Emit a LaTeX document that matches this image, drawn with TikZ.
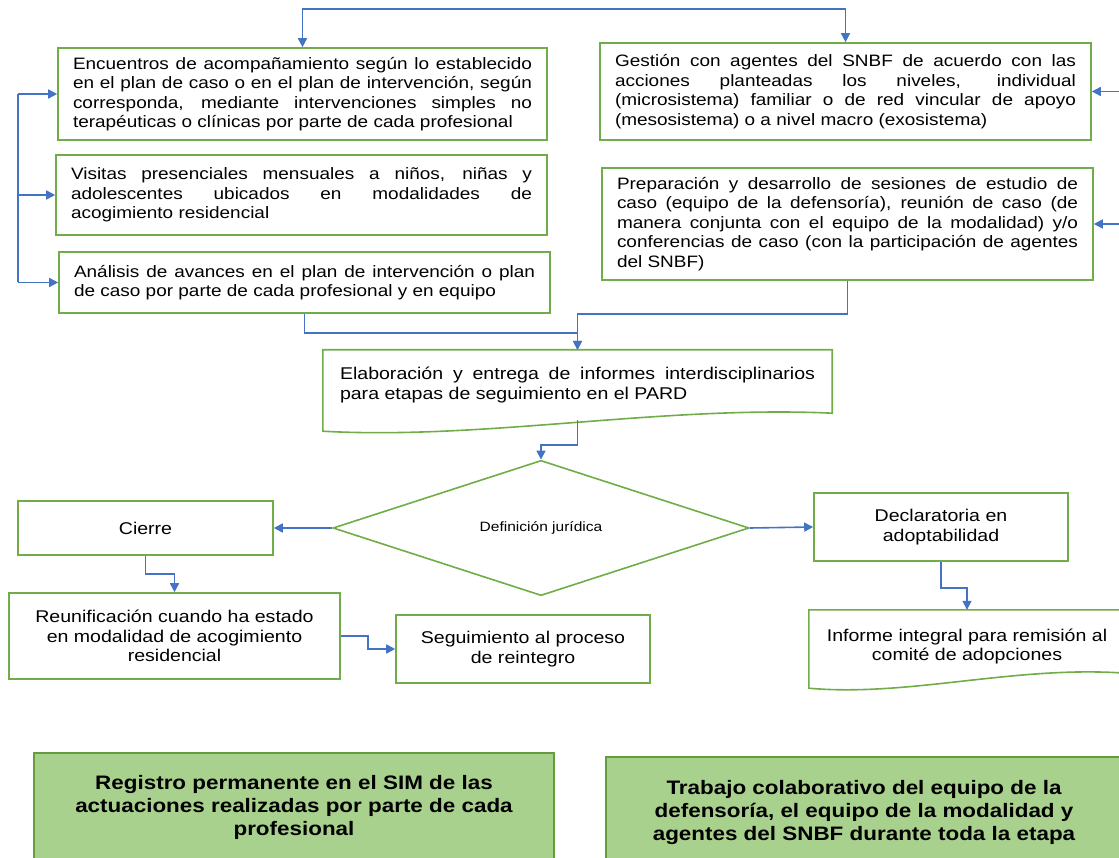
\documentclass[tikz,border=0pt]{standalone}
\usepackage{fontspec}
\setmainfont{Liberation Sans}[FakeStretch=1.15]
\usetikzlibrary{arrows.meta,shapes.geometric,calc}
\definecolor{cGrn} {HTML}{70AD47}
\definecolor{cBlu} {HTML}{4472C4}
\definecolor{cNote}{HTML}{A9D18E}
\tikzset{
  blk/.style  ={draw=cGrn,line width=1.6pt,fill=white,inner sep=0pt,
                font=\fontsize{16.5}{19.5}\selectfont},
  jblk/.style ={blk,align=justify},
  cblk/.style ={blk,align=center,font=\fontsize{17}{19.5}\selectfont},
  docx/.style ={inner sep=0pt,font=\fontsize{17}{19.5}\selectfont},
  docline/.style={draw=cGrn,line width=1.6pt},
  dec/.style  ={blk,shape=diamond,font=\fontsize{13.5}{15}\selectfont},
  note/.style ={draw=cGrn!90!black,fill=cNote,line width=1.2pt,align=center,
                inner sep=0pt,font=\fontsize{19.5}{23}\selectfont\bfseries},
  link/.style ={draw=cBlu,line width=1.6pt,-{Triangle[length=9pt,width=9pt]}},
}
\begin{document}
\begin{tikzpicture}[x=1pt,y=-1pt]
\clip (0,0) rectangle (1119,858);

% left column of activities
\node[jblk,minimum width=489,minimum height=92,text width=459pt] (encA) at (302.5,94)
  {Encuentros de acompañamiento según lo establecido\linebreak
   en el plan de caso o en el plan de intervención, según\linebreak
   corresponda, mediante intervenciones simples no\linebreak
   terapéuticas o clínicas por parte de cada profesional};
\node[jblk,minimum width=491,minimum height=80,text width=461pt] (visB) at (301.5,195)
  {Visitas presenciales mensuales a niños, niñas y\linebreak
   adolescentes ubicados en modalidades de\linebreak
   acogimiento residencial};
\node[jblk,minimum width=491,minimum height=61,text width=461pt] (anaC) at (304.5,282.5)
  {Análisis de avances en el plan de intervención o plan\linebreak
   de caso por parte de cada profesional y en equipo};

% right column
\node[jblk,minimum width=491,minimum height=97,text width=461pt] (gest) at (845.5,91.5)
  {Gestión con agentes del SNBF de acuerdo con las\linebreak
   acciones planteadas los niveles, individual\linebreak
   (microsistema) familiar o de red vincular de apoyo\linebreak
   (mesosistema) o a nivel macro (exosistema)};
\node[jblk,minimum width=491,minimum height=112,text width=461pt] (prep) at (847.5,224)
  {Preparación y desarrollo de sesiones de estudio de\linebreak
   caso (equipo de la defensoría), reunión de caso (de\linebreak
   manera conjunta con el equipo de la modalidad) y/o\linebreak
   conferencias de caso (con la participación de agentes\linebreak
   del SNBF)};

% report (document shape, outline drawn below)
\node[docx,align=justify,minimum width=509,minimum height=70,text width=475pt] (pard) at (577.5,385)
  {Elaboración y entrega de informes interdisciplinarios\linebreak
   para etapas de seguimiento en el PARD};
\draw[docline] (pard.north west) -- (pard.north east) -- ([yshift=7pt]pard.south east)
  .. controls +(-170,-8) and +(160,9) .. ([yshift=-11pt]pard.south west) -- cycle;

\node[dec,minimum width=416,minimum height=129] (jur) at (541,528) {Definición jurídica};

\node[cblk,minimum width=255,minimum height=54] (cierre) at (145.5,528) {Cierre};
\node[cblk,minimum width=331,minimum height=86] (reun) at (174.5,636)
  {Reunificación cuando ha estado\\ en modalidad de acogimiento\\ residencial};
\node[cblk,minimum width=254,minimum height=68] (segu) at (523,649)
  {Seguimiento al proceso\\ de reintegro};
\node[cblk,minimum width=254,minimum height=68] (decl) at (941,527)
  {Declaratoria en\\ adoptabilidad};

\node[docx,align=center,minimum width=316,minimum height=73] (infm) at (967,646.5)
  {Informe integral para remisión al\\ comité de adopciones};
\draw[docline] (infm.north west) -- (infm.north east) -- ([yshift=10pt]infm.south east)
  .. controls +(-110,-8) and +(100,9) .. ([yshift=-5pt]infm.south west) -- cycle;

% notes at the foot
\node[note,minimum width=520,minimum height=108] (regis) at (294,807)
  {Registro permanente en el SIM de las\\ actuaciones realizadas por parte de cada\\ profesional};
\node[note,minimum width=516,minimum height=110] (colab) at (864,812)
  {Trabajo colaborativo del equipo de la\\ defensoría, el equipo de la modalidad y\\ agentes del SNBF durante toda la etapa};

% connectors
\coordinate (topbar) at (0,9);
\coordinate (railL) at (18,0);
\coordinate (railR) at (1130,0);
\draw[link,{Triangle[length=9pt,width=9pt]}-{Triangle[length=9pt,width=9pt]}]
  (encA.north) -- (encA.north |- topbar) -| (gest.north);
\draw[draw=cBlu,line width=1.6pt] (encA.west -| railL) -- (anaC.west -| railL);
\foreach \n in {encA,visB,anaC}{\draw[link] (\n.west -| railL) -- (\n.west);}
\foreach \n in {gest,prep}{\draw[link] (\n.east -| railR) -- (\n.east);}
\draw[link] (anaC.south) -- ++(0,19) -| (pard.north);
\draw[link] (prep.south) -- ++(0,33) -| (pard.north);
\draw[link] (pard.south) -- ++(0,25) -| (jur.north);
\draw[link] (jur.west) -- (cierre.east);
\draw[link] (jur.east) -- (decl.west);
\draw[link] (cierre.south) -- ++(0,18) -| (reun.north);
\draw[link] (reun.east) -- ++(27,0) |- (segu.west);
\draw[link] (decl.south) -- ++(0,26) -| (infm.north);
\end{tikzpicture}
\end{document}
